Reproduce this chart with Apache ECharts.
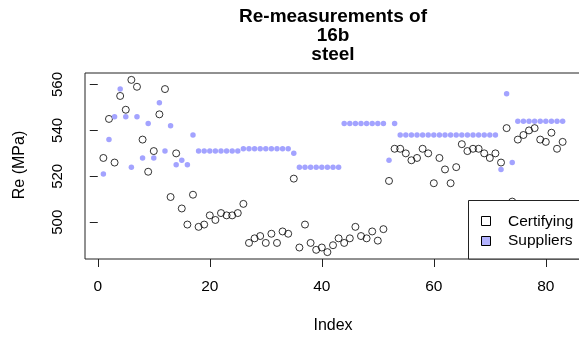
<!DOCTYPE html>
<html>
<head>
<meta charset="utf-8">
<script src="https://cdn.jsdelivr.net/npm/echarts@6/dist/echarts.min.js"></script>
<style>
html,body{margin:0;padding:0;overflow:hidden;background:#fff;}
#chart{width:590px;height:340px;}
</style>
</head>
<body>
<div id="chart"></div>
<script>
var seriesNames = ['Certifying', 'Suppliers'];
var certifying = [528,545,526,555,549,562,559,536,522,531,547,558,511,530,506,499,512,498,499,503,
  501,504,503,503,504,508,491,493,494,491,495,491,496,495,519,489,499,491,488,489,
  487,490,493,491,493,498,494,493,496,492,497,518,532,532,530,527,528,532,530,517,
  528,523,517,524,534,531,532,532,530,528,530,526,541,509,536,538,540,541,536,535,
  539,532,535];
var suppliers = [521,536,546,558,546,524,546,528,543,528,552,531,542,525,527,525,538,531,531,531,
  531,531,531,531,531,532,532,532,532,532,532,532,532,532,530,524,524,524,524,524,
  524,524,524,543,543,543,543,543,543,543,543,527,543,538,538,538,538,538,538,538,
  538,538,538,538,538,538,538,538,538,538,538,523,556,526,544,544,544,544,544,544,
  544,544,544];
var xTicks = [0, 20, 40, 60, 80];
var yTicks = [500, 520, 540, 560];
var titleText = 'Re-measurements of\n16b\nsteel';
var xName = 'Index';
var yName = 'Re (MPa)';

function pairs(arr){ return arr.map(function(v,i){ return [i+1, v]; }); }

var FONT = '"Liberation Sans", Arial, sans-serif';
var chart = echarts.init(document.getElementById('chart'), null, {renderer:'canvas'});
chart.setOption({
  animation: false,
  grid: {left: 85, top: 73, width: 496, height: 186, show: true,
         borderColor: '#222', borderWidth: 1, backgroundColor: 'transparent'},
  xAxis: {
    type: 'value', min: -2.28, max: 86.28,
    axisLine: {show: false},
    splitLine: {show: false},
    axisTick: {show: true, inside: false, length: 8, lineStyle: {color: '#222'}, customValues: xTicks},
    axisLabel: {customValues: xTicks, margin: 20, color: '#000', fontSize: 15.5, fontFamily: FONT}
  },
  yAxis: {
    type: 'value', min: 484, max: 565,
    axisLine: {show: false},
    splitLine: {show: false},
    axisTick: {show: true, inside: false, length: 8, lineStyle: {color: '#222'}, customValues: yTicks},
    axisLabel: {customValues: yTicks, rotate: 90, margin: 20, color: '#000', fontSize: 15, fontFamily: FONT}
  },
  series: [
    {name: seriesNames[0], type: 'scatter', data: pairs(certifying), symbol: 'circle', symbolSize: 7,
     itemStyle: {color: 'rgba(0,0,0,0)', borderColor: '#000', borderWidth: 1}, z: 2},
    {name: seriesNames[1], type: 'scatter', data: pairs(suppliers), symbol: 'circle', symbolSize: 5.5,
     itemStyle: {color: '#a3a3ff', opacity: 1}, z: 3}
  ],
  graphic: [
    {type: 'text', x: 333, y: 36, z: 10,
     style: {text: titleText, textAlign: 'center', textVerticalAlign: 'middle', lineHeight: 19,
             font: 'bold 19px ' + FONT, fill: '#000'}},
    {type: 'text', x: 333, y: 326, z: 10,
     style: {text: xName, textAlign: 'center', textVerticalAlign: 'middle', font: '16px ' + FONT, fill: '#000'}},
    {type: 'text', x: 20, y: 165, rotation: Math.PI/2, z: 10,
     style: {text: yName, textAlign: 'center', textVerticalAlign: 'middle', font: '16px ' + FONT, fill: '#000'}},
    {type: 'rect', z: 20, shape: {x: 468.5, y: 200.5, width: 140, height: 58.5},
     style: {fill: '#fff', stroke: '#222', lineWidth: 1}},
    {type: 'rect', z: 21, shape: {x: 481.5, y: 216.5, width: 9, height: 9},
     style: {fill: '#fff', stroke: '#000', lineWidth: 1}},
    {type: 'rect', z: 21, shape: {x: 481.5, y: 236.5, width: 9, height: 9},
     style: {fill: '#b3b3ff', stroke: '#000', lineWidth: 1}},
    {type: 'text', x: 508, y: 221.5, z: 21,
     style: {text: seriesNames[0], textVerticalAlign: 'middle', font: '15.5px ' + FONT, fill: '#000'}},
    {type: 'text', x: 508, y: 241, z: 21,
     style: {text: seriesNames[1], textVerticalAlign: 'middle', font: '15.5px ' + FONT, fill: '#000'}}
  ]
});
</script>
</body>
</html>
